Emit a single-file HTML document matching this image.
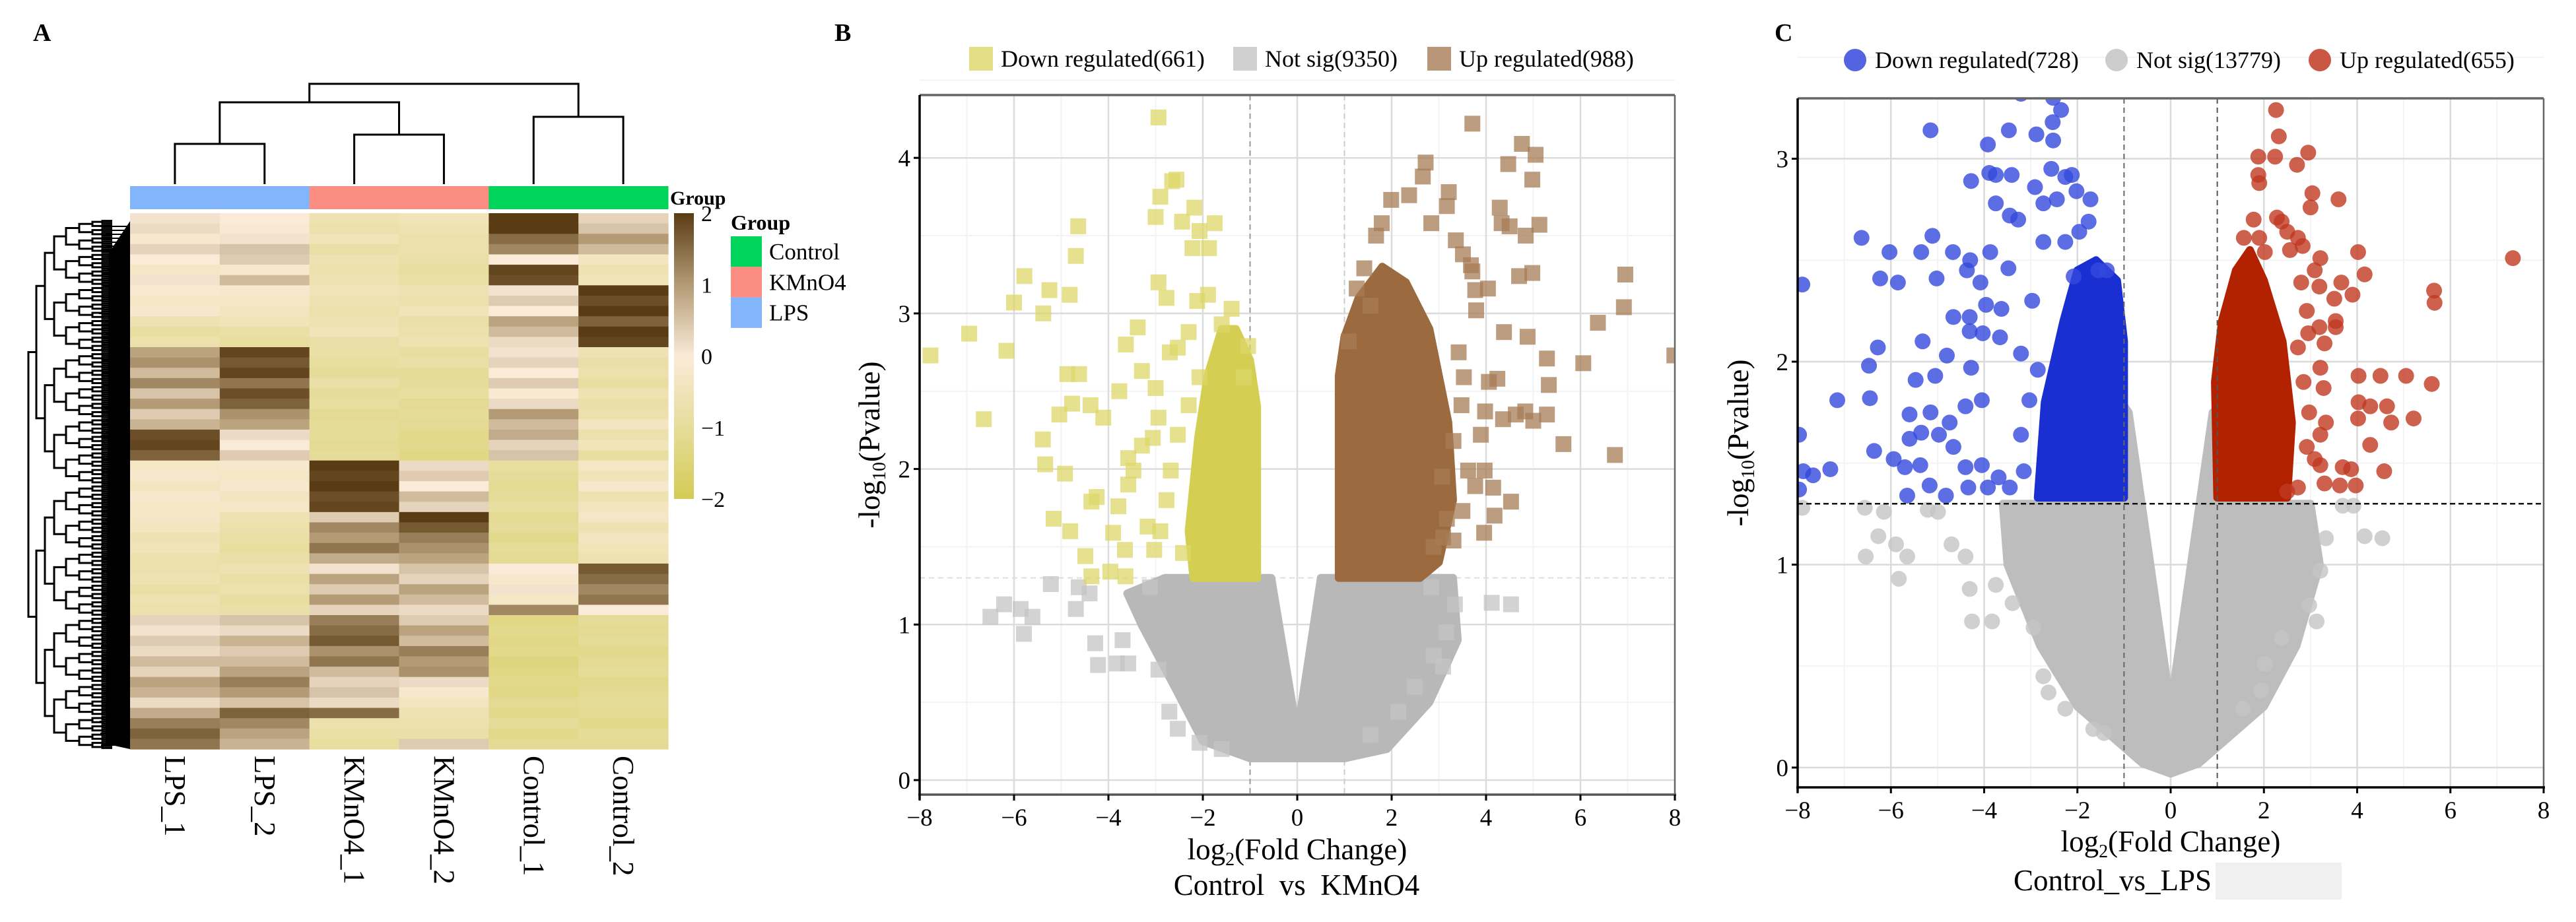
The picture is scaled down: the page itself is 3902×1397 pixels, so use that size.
<!DOCTYPE html>
<html><head><meta charset="utf-8"><style>
html,body{margin:0;padding:0;background:#fff}
svg{display:block;font-family:"Liberation Serif",serif}
</style></head><body>
<svg id="fig" width="3902" height="1397" viewBox="0 0 3902 1397" xmlns="http://www.w3.org/2000/svg">
<rect width="3902" height="1397" fill="#fff"/>
<g id="pa"></g>
<g id="pb"></g>
<g id="pc"></g>
</svg>
<script>
// ---------- Heatmap data ----------
const sampleLabels=["LPS_1","LPS_2","KMnO4_1","KMnO4_2","Control_1","Control_2"];
const sampleGroups=["LPS","LPS","KMnO4","KMnO4","Control","Control"];
const colorTicks=[2,1,0,-1,-2];
const heatRows=[
[0.1,0.0,-0.6,-0.5,2,0.3],[0.2,-0.1,-0.7,-0.6,2,0.5],[-0.2,0.1,-0.5,-0.7,1.5,1.0],[0.3,0.5,-0.8,-0.7,1.2,0.6],[0.0,0.4,-0.6,-0.8,0.0,-0.4],[-0.3,-0.2,-0.7,-0.9,1.9,-0.6],[0.1,0.6,-0.6,-0.8,1.8,-0.5],
[-0.1,-0.2,-0.5,-0.6,0.1,2],[-0.3,-0.3,-0.6,-0.7,0.4,1.8],[-0.2,-0.4,-0.7,-0.5,0.0,2],[-0.6,-0.5,-0.6,-0.8,0.9,1.6],[-0.9,-0.8,-0.5,-0.7,0.6,2],[-0.7,-0.9,-0.8,-0.6,0.2,1.9],
[0.9,1.9,-0.8,-0.9,0.1,-0.6],[1.1,1.7,-0.9,-0.8,0.3,-0.8],[0.6,1.9,-1.0,-1.0,0.0,-0.7],[1.2,1.4,-0.8,-1.0,0.4,-0.9],[0.5,1.8,-1.0,-0.9,-0.1,-0.6],[1.0,1.6,-0.9,-1.1,0.2,-0.8],[0.4,1.1,-1.1,-1.0,1.0,-0.7],[0.7,0.9,-1.0,-1.1,0.6,-0.4],[1.8,0.2,-1.0,-1.2,0.8,-0.7],[1.9,0.0,-1.1,-1.2,0.3,-0.5],[1.6,0.4,-1.0,-1.3,0.5,-0.9],
[-0.3,-0.2,2,0.2,-0.9,-0.3],[-0.2,-0.3,1.9,0.4,-1.0,-0.5],[-0.4,-0.2,2,0.0,-1.1,-0.2],[-0.2,-0.4,1.8,0.6,-1.0,-0.6],[-0.3,-0.3,1.9,0.3,-0.9,-0.4],
[-0.3,-0.6,0.4,2,-1.1,-0.3],[-0.4,-0.7,1.2,1.7,-1.0,-0.6],[-0.6,-0.8,1.0,1.3,-1.2,-0.4],[-0.5,-0.9,1.4,1.1,-1.0,-0.5],[-0.7,-0.8,0.8,0.9,-1.1,-0.6],
[-0.7,-0.6,0.1,0.5,0.0,1.7],[-0.6,-0.8,0.9,0.3,-0.2,1.5],[-0.8,-0.7,0.4,0.9,0.1,1.2],[-0.6,-0.9,1.0,0.6,-0.3,1.4],[-0.7,-0.8,0.3,0.2,1.2,0.0],
[0.3,0.5,1.3,0.4,-1.3,-1.0],[0.1,0.2,1.5,0.9,-1.2,-1.1],[0.4,0.7,1.7,0.6,-1.3,-1.0],[0.2,0.4,1.1,1.3,-1.2,-1.2],[0.6,0.6,1.4,1.0,-1.4,-1.1],[0.3,0.9,0.6,1.1,-1.3,-1.0],[0.9,1.3,0.3,0.2,-1.2,-1.2],[0.7,1.0,0.5,-0.2,-1.3,-1.1],[0.2,0.5,0.2,-0.4,-1.1,-1.0],[0.8,1.6,1.5,-0.6,-1.2,-1.1],[1.3,1.2,-0.7,-0.7,-1.0,-1.2],[1.6,0.9,-0.8,-0.8,-1.2,-1.0],[1.4,0.7,-0.9,0.4,-1.1,-1.1]];

// ---------- Volcano B data (log2FC, -log10 p) ----------
const bLegend=["Down regulated(661)","Not sig(9350)","Up regulated(988)"];
const bDown=[[-2.94,4.26],[-2.56,3.86],[-2.65,3.85],[-2.9,3.75],[-3.0,3.62],[-2.18,3.68],[-2.44,3.59],[-1.75,3.58],[-2.07,3.53],[-2.22,3.42],[-1.87,3.42],[-4.64,3.56],[-4.69,3.37],[-5.78,3.24],[-5.25,3.15],[-6.0,3.07],[-4.82,3.12],[-5.38,3.0],[-6.95,2.87],[-6.16,2.76],[-7.77,2.73],[-4.87,2.61],[-4.62,2.61],[-4.77,2.42],[-4.38,2.41],[-5.04,2.35],[-4.11,2.33],[-6.64,2.32],[-5.39,2.19],[-5.34,2.03],[-4.92,1.97],[-4.36,1.79],[-4.25,1.82],[-5.16,1.68],[-4.81,1.6],[-4.49,1.44],[-3.9,1.59],[-3.65,1.48],[-3.96,1.34],[-3.64,1.31],[-4.36,1.31],[-3.79,1.76],[-3.58,1.9],[-3.47,1.99],[-3.77,2.5],[-3.63,2.8],[-3.38,2.91],[-2.94,3.2],[-2.77,3.1],[-1.89,3.12],[-2.12,3.08],[-1.39,3.03],[-3.29,2.63],[-3.0,2.52],[-2.94,2.33],[-3.29,2.15],[-3.06,2.2],[-3.58,2.07],[-3.17,1.63],[-3.03,1.48],[-2.9,1.6],[-2.42,1.46],[-2.53,2.78],[-2.7,2.75],[-2.3,2.88],[-1.04,2.79],[-1.13,2.59],[-1.6,2.93],[-2.07,2.59],[-2.3,2.41],[-2.53,2.22],[-2.68,1.99],[-2.77,1.8]];
const bUp=[[3.71,4.22],[4.76,4.09],[5.05,4.02],[4.47,3.96],[2.72,3.97],[2.66,3.88],[4.98,3.86],[3.21,3.78],[3.17,3.69],[2.37,3.76],[1.99,3.73],[4.29,3.68],[4.33,3.58],[4.5,3.56],[5.13,3.57],[4.84,3.5],[3.36,3.47],[3.51,3.38],[4.7,3.24],[4.98,3.26],[6.95,3.25],[6.92,3.04],[4.04,3.16],[3.77,3.15],[3.79,3.02],[6.37,2.94],[4.38,2.88],[4.88,2.85],[5.29,2.71],[6.06,2.68],[7.99,2.73],[4.24,2.58],[4.06,2.56],[5.33,2.54],[3.98,2.37],[4.36,2.32],[4.63,2.35],[4.83,2.37],[5.29,2.35],[5.0,2.31],[5.64,2.16],[6.73,2.09],[3.89,2.22],[3.62,1.99],[3.97,1.99],[4.15,1.88],[3.77,1.89],[4.53,1.79],[4.18,1.7],[3.5,1.73],[3.17,1.68],[3.96,1.59],[3.31,1.54],[3.09,1.56],[2.89,1.5],[3.42,2.75],[3.53,2.59],[3.48,2.41],[3.31,2.18],[3.07,1.95],[3.68,3.31],[3.71,3.27],[2.84,3.58],[1.79,3.58],[1.67,3.5],[1.42,3.29],[1.26,3.16],[1.55,3.05],[1.09,2.82]];
const bNs=[[4.12,1.14],[4.53,1.13],[3.34,1.13],[3.16,0.95],[3.09,0.73],[2.89,0.8],[2.49,0.6],[2.14,0.44],[1.55,0.29],[-5.22,1.26],[-6.21,1.13],[-6.5,1.05],[-5.86,1.1],[-5.61,1.05],[-5.79,0.94],[-4.69,1.1],[-4.28,0.88],[-4.22,0.74],[-3.7,0.9],[-3.82,0.75],[-3.58,0.75],[-2.94,0.71],[-2.71,0.44],[-2.53,0.33],[-2.07,0.24],[-1.6,0.2],[-4.63,1.24],[-4.4,1.2],[-3.12,1.24],[2.84,1.24]];
const bDownCore=[[-0.85,1.3],[-0.85,2.4],[-1.0,2.7],[-1.3,2.9],[-1.6,2.9],[-1.9,2.6],[-2.1,2.2],[-2.3,1.6],[-2.2,1.3]];
const bUpCore=[[0.88,1.3],[0.88,2.6],[1.0,2.85],[1.3,3.1],[1.8,3.3],[2.3,3.2],[2.8,2.9],[3.2,2.3],[3.3,1.8],[3.0,1.4],[2.6,1.3]];
const bNsCore=[[-2.8,1.3],[-0.55,1.3],[0,0.3],[0.5,1.3],[3.3,1.3],[3.4,0.9],[2.8,0.5],[1.9,0.2],[1.0,0.14],[-1.0,0.14],[-2.0,0.25],[-2.6,0.6],[-3.3,1.0],[-3.6,1.2]];
const bXTicks=[-8,-6,-4,-2,0,2,4,6,8];
const bYTicks=[0,1,2,3,4];

// ---------- Volcano C data ----------
const cLegend=["Down regulated(728)","Not sig(13779)","Up regulated(655)"];
const cDown=[[-5.15,3.14],[-3.92,3.07],[-3.47,3.14],[-2.88,3.12],[-2.53,3.18],[-2.35,3.24],[-2.52,3.09],[-3.21,3.32],[-2.52,3.3],[-4.28,2.89],[-3.89,2.93],[-3.75,2.92],[-3.41,2.92],[-2.56,2.95],[-2.26,2.91],[-2.12,2.92],[-2.91,2.86],[-2.73,2.78],[-2.44,2.8],[-2.02,2.84],[-1.72,2.8],[-3.75,2.78],[-3.45,2.72],[-3.27,2.7],[-1.76,2.69],[-6.63,2.61],[-5.11,2.62],[-6.03,2.54],[-5.35,2.54],[-4.67,2.54],[-4.3,2.5],[-3.87,2.54],[-6.23,2.41],[-5.85,2.39],[-5.02,2.41],[-4.37,2.45],[-4.08,2.39],[-3.48,2.46],[-7.9,2.38],[-4.66,2.22],[-4.31,2.22],[-3.96,2.28],[-3.63,2.26],[-2.97,2.3],[-4.31,2.15],[-4.03,2.14],[-3.66,2.12],[-6.28,2.07],[-5.32,2.1],[-4.8,2.03],[-6.47,1.98],[-5.47,1.91],[-5.05,1.93],[-4.28,1.97],[-7.15,1.81],[-6.45,1.82],[-5.15,1.75],[-5.6,1.74],[-4.74,1.7],[-4.4,1.78],[-4.05,1.81],[-4.97,1.64],[-5.6,1.62],[-5.35,1.65],[-4.66,1.58],[-6.36,1.56],[-5.94,1.52],[-5.7,1.48],[-5.37,1.49],[-4.4,1.48],[-4.05,1.49],[-3.69,1.43],[-7.3,1.47],[-7.88,1.46],[-7.67,1.44],[-7.97,1.64],[-7.97,1.37],[-5.65,1.34],[-5.17,1.39],[-4.82,1.34],[-4.34,1.38],[-3.92,1.38],[-3.45,1.38],[-3.15,1.46],[-3.21,1.64],[-3.03,1.81],[-2.85,1.96],[-3.21,2.04],[-2.08,2.42],[-1.55,2.45],[-1.37,2.45],[-2.73,2.59],[-2.26,2.59],[-1.96,2.64]];
const cUp=[[2.26,3.24],[2.32,3.11],[1.88,3.01],[2.24,3.01],[2.95,3.03],[2.71,2.97],[1.88,2.92],[1.9,2.88],[3.04,2.83],[3.0,2.76],[3.6,2.8],[1.78,2.7],[2.28,2.71],[2.38,2.69],[2.5,2.64],[2.73,2.61],[1.57,2.61],[1.9,2.61],[2.02,2.54],[2.56,2.55],[2.83,2.57],[3.21,2.51],[3.09,2.45],[4.02,2.54],[4.16,2.43],[7.34,2.51],[5.65,2.35],[5.66,2.29],[3.66,2.39],[3.9,2.33],[3.51,2.31],[3.19,2.37],[2.8,2.39],[2.92,2.25],[3.19,2.17],[3.54,2.2],[3.54,2.17],[3.3,2.09],[2.95,2.14],[2.73,2.07],[3.21,1.97],[4.03,1.93],[4.5,1.93],[5.05,1.93],[5.6,1.89],[3.28,1.87],[2.85,1.9],[4.03,1.8],[4.28,1.78],[4.64,1.78],[2.97,1.75],[4.02,1.72],[4.73,1.7],[5.21,1.72],[3.33,1.7],[3.21,1.64],[4.28,1.59],[2.92,1.58],[3.09,1.52],[3.21,1.49],[3.69,1.48],[3.87,1.47],[4.58,1.46],[3.3,1.4],[3.63,1.39],[3.97,1.39],[2.73,1.38],[2.5,1.36]];
const cNs=[[-7.9,1.28],[-6.56,1.28],[-6.15,1.26],[-6.27,1.14],[-6.54,1.04],[-5.89,1.1],[-5.65,1.04],[-5.83,0.93],[-5.21,1.27],[-4.99,1.26],[-4.7,1.1],[-4.4,1.04],[-4.31,0.88],[-4.26,0.72],[-3.83,0.72],[-3.75,0.9],[-3.39,0.81],[-2.94,0.69],[-2.73,0.45],[-2.62,0.37],[-2.26,0.29],[-1.66,0.19],[-1.43,0.17],[3.92,1.29],[4.16,1.14],[4.54,1.13],[3.13,0.72],[2.97,0.8],[3.21,0.97],[3.33,1.13],[2.38,0.64],[2.02,0.51],[1.94,0.38],[1.55,0.29],[3.69,1.29]];
const cDownCore=[[-1.0,1.33],[-1.0,2.1],[-1.15,2.4],[-1.6,2.5],[-2.0,2.45],[-2.3,2.2],[-2.7,1.8],[-2.85,1.33]];
const cUpCore=[[1.0,1.33],[0.95,1.9],[1.1,2.2],[1.4,2.45],[1.7,2.55],[2.0,2.4],[2.4,2.1],[2.6,1.7],[2.5,1.33]];
const cNsCore=[[-3.6,1.3],[-1.1,1.3],[-1.05,1.8],[-0.9,1.75],[0,0.3],[0.9,1.75],[1.0,1.75],[1.05,1.3],[3.0,1.3],[3.2,1.0],[2.7,0.6],[2.0,0.3],[0.6,0.02],[0,-0.03],[-0.6,0.02],[-2.0,0.3],[-2.8,0.6],[-3.5,1.0]];
const cXTicks=[-8,-6,-4,-2,0,2,4,6,8];
const cYTicks=[0,1,2,3];

// ---------- helpers ----------
const NS="http://www.w3.org/2000/svg";
function mk(parent,tag,attrs,txt){const e=document.createElementNS(NS,tag);for(const k in attrs)e.setAttribute(k,attrs[k]);if(txt!==undefined)e.textContent=txt;parent.appendChild(e);return e;}
const fmt=v=>v<0?"\u2212"+(-v):String(v);

// ---------- Panel A: heatmap ----------
(function(){
const g=document.getElementById('pa');
const hx0=197,hx1=1012,hy0=323,hy1=1135;
const cw=(hx1-hx0)/sampleLabels.length, rh=(hy1-hy0)/heatRows.length;
const stops=[[-2,[212,203,85]],[-1,[230,220,154]],[0,[250,235,216]],[1,[180,155,118]],[2,[90,60,20]]];
function col(v){v=Math.max(-2,Math.min(2,v));for(let i=0;i<stops.length-1;i++){const a=stops[i],b=stops[i+1];if(v<=b[0]){const t=(v-a[0])/(b[0]-a[0]);const c=a[1].map((x,j)=>Math.round(x+(b[1][j]-x)*t));return `rgb(${c})`;}}}
const groupColors={Control:"#00d45a",KMnO4:"#fb8d83",LPS:"#83b5fc"};
const panelLabel=mk(g,'text',{x:50,y:62,'font-size':38,'font-weight':'bold'},"A");


const cells=mk(g,'g',{});


heatRows.forEach((row,r)=>row.forEach((v,c)=>{
  const e=mk(cells,'rect',{x:hx0+c*cw,y:hy0+r*rh,width:cw+0.6,height:rh+0.6,fill:col(v)});
  
  
}));
sampleGroups.forEach((gr,c)=>{
  const e=mk(g,'rect',{x:hx0+c*cw,y:282,width:cw+0.5,height:35,fill:groupColors[gr]});
  
  
});
const gt=mk(g,'text',{x:1015,y:310,'font-size':30,'font-weight':'bold'},"Group");


const cx=i=>hx0+(i+0.5)*cw;
const cd=mk(g,'path',{fill:'none',stroke:'#000','stroke-width':3,d:
`M${cx(0)},279V218H${cx(1)}V279 M${cx(2)},279V204H${cx(3)}V279 M${cx(4)},279V177H${cx(5)}V279 M${(cx(0)+cx(1))/2},218V155H${(cx(2)+cx(3))/2}V204 M${(cx(0)+cx(1)+cx(2)+cx(3))/4},155V127H${(cx(4)+cx(5))/2}V177`});


const rd=mk(g,'g',{});


mk(rd,'path',{fill:'#000',d:`M197,${hy0+12}L165,${hy0+60}L160,${hy1-8}L197,${hy1}Z`});
const levels=[43,55,68,82,100,120,140,155,170];
let d="";
function tree(lo,hi,depth){
  if(depth>=levels.length-1){return (lo+hi)/2;}
  const mid=(lo+hi)/2;
  const a=tree(lo,mid,depth+1), b=tree(mid,hi,depth+1);
  const x=levels[depth], xc=levels[depth+1];
  d+=`M${xc},${a}H${x}V${b}H${xc}`;
  return (a+b)/2;
}
tree(hy0+10,hy1,0);
mk(rd,'path',{fill:'none',stroke:'#000','stroke-width':3,d:d});
let d2="";
for(let y=hy0+20;y<hy1;y+=6){d2+=`M${150+((y*7)%25)},${y}H197`;}
mk(rd,'path',{fill:'none',stroke:'#000','stroke-width':2,d:d2});
const defs=mk(g,'defs',{});
const lg=mk(defs,'linearGradient',{id:'cb',x1:0,y1:0,x2:0,y2:1});
[2,1,0,-1,-2].forEach((v,i)=>mk(lg,'stop',{offset:i/4,'stop-color':col(v)}));
const cb=mk(g,'rect',{x:1021,y:323,width:30,height:433,fill:'url(#cb)'});


colorTicks.forEach(v=>{
  const y=323+(2-v)/4*433;
  const t=mk(g,'text',{x:1062,y:y+12,'font-size':34},fmt(v));
  
  
});
const lt=mk(g,'text',{x:1107,y:348,'font-size':32,'font-weight':'bold'},"Group");


["Control","KMnO4","LPS"].forEach((n,i)=>{
  const y=358+i*46.3;
  const r=mk(g,'rect',{x:1107,y:y,width:47,height:46.3,fill:groupColors[n]});
  
  
  const t=mk(g,'text',{x:1165,y:y+35,'font-size':35},n);
  
  
});
sampleLabels.forEach((s,c)=>{
  const t=mk(g,'text',{x:0,y:0,'font-size':45,transform:`translate(${cx(c)-15},1145) rotate(90)`},s);
  
  
});
})();

// ---------- Volcano builder ----------
function volcano(o){
const g=document.getElementById(o.id);
const X=v=>o.x0+(v-(-8))*(o.x1-o.x0)/16;
const Y=v=>o.yZero-v*o.yUnit;
const pl=mk(g,'text',{x:o.labelX,y:62,'font-size':38,'font-weight':'bold'},o.label);


const grid=mk(g,'g',{});


for(let v=-7;v<=7;v+=2) mk(grid,'line',{x1:X(v),x2:X(v),y1:o.y0,y2:o.y1,stroke:'#f3f3f3','stroke-width':2});
o.yTicks.forEach(v=>mk(grid,'line',{x1:o.x0,x2:o.x1,y1:Y(v+0.5),y2:Y(v+0.5),stroke:'#f3f3f3','stroke-width':2}));
o.xTicks.forEach(v=>mk(grid,'line',{x1:X(v),x2:X(v),y1:o.y0,y2:o.y1,stroke:o.grid,'stroke-width':2.5}));
o.yTicks.forEach(v=>mk(grid,'line',{x1:o.x0,x2:o.x1,y1:Y(v),y2:Y(v),stroke:o.grid,'stroke-width':2.5}));
const th=mk(g,'g',{});


mk(th,'line',{x1:X(-1),x2:X(-1),y1:o.y0,y2:o.y1,stroke:o.vl1,'stroke-width':2,'stroke-dasharray':'8,6'});
mk(th,'line',{x1:X(1),x2:X(1),y1:o.y0,y2:o.y1,stroke:o.vl2,'stroke-width':2,'stroke-dasharray':'8,6'});
if(!o.hFront) mk(th,'line',{x1:o.x0,x2:o.x1,y1:Y(1.3),y2:Y(1.3),stroke:o.hl,'stroke-width':2,'stroke-dasharray':'8,6'});
const clip=mk(mk(g,'defs',{}),'clipPath',{id:o.id+'clip'});
mk(clip,'rect',{x:o.x0,y:o.y0,width:o.x1-o.x0,height:o.y1-o.y0});
const pts=mk(g,'g',{'clip-path':`url(#${o.id}clip)`});


const sz=o.size;
function core(arr,fill,name){
  const p=mk(pts,'polygon',{points:arr.map(q=>X(q[0])+','+Y(q[1])).join(' '),fill:fill,stroke:fill,'stroke-width':sz*0.5,'stroke-linejoin':'round'});
  
  
}
function dots(arr,fill,name){
  arr.forEach(q=>{
    let e;
    if(o.square) e=mk(pts,'rect',{x:X(q[0])-sz/2,y:Y(q[1])-sz/2,width:sz,height:sz,fill:fill,'fill-opacity':0.75});
    else e=mk(pts,'circle',{cx:X(q[0]),cy:Y(q[1]),r:sz/2,fill:fill,'fill-opacity':0.8});
    
    
  });
}
core(o.nsCore,o.cNs,'not-sig-dense-region');
dots(o.ns,o.cNsL,'not-sig-point');
core(o.downCore,o.cDown,'down-dense-region');
core(o.upCore,o.cUp,'up-dense-region');
dots(o.down,o.cDownL,'down-point');
dots(o.up,o.cUpL,'up-point');
if(o.hFront){mk(th,'line',{x1:o.x0,x2:o.x1,y1:Y(1.3),y2:Y(1.3),stroke:o.hl,'stroke-width':2.5,'stroke-dasharray':'8,5'});g.appendChild(th);}
const fr=mk(g,'g',{});


mk(fr,'line',{x1:o.x0,x2:o.x1,y1:o.y0,y2:o.y0,stroke:'#666','stroke-width':3.5});
mk(fr,'line',{x1:o.x1,x2:o.x1,y1:o.y0,y2:o.y1,stroke:'#666','stroke-width':2.5});
const xa=mk(g,'line',{x1:o.x0-2,x2:o.x1+2,y1:o.y1,y2:o.y1,stroke:o.xAxisCol,'stroke-width':3.5});


const ya=mk(g,'line',{x1:o.x0,x2:o.x0,y1:o.y0,y2:o.y1+8,stroke:'#000','stroke-width':3.5});


o.xTicks.forEach(v=>{
  mk(g,'line',{x1:X(v),x2:X(v),y1:o.y1,y2:o.y1+9,stroke:'#000','stroke-width':3});
  const t=mk(g,'text',{x:X(v),y:o.y1+47,'font-size':37,'text-anchor':'middle'},fmt(v));
  
  
});
o.yTicks.forEach(v=>{
  mk(g,'line',{x1:o.x0-9,x2:o.x0,y1:Y(v),y2:Y(v),stroke:'#000','stroke-width':3});
  const t=mk(g,'text',{x:o.x0-14,y:Y(v)+13,'font-size':37,'text-anchor':'end'},fmt(v));
  
  
});
const xc=(o.x0+o.x1)/2;
const xl=mk(g,'text',{x:xc,y:o.xlY,'font-size':45,'text-anchor':'middle'});


mk(xl,'tspan',{},"log");mk(xl,'tspan',{'font-size':28,dy:9},"2");mk(xl,'tspan',{dy:-9},"(Fold Change)");
const sub=mk(g,'text',{x:o.subX,y:o.subY,'font-size':45,'text-anchor':o.subAnchor},o.subtitle);


const yl=mk(g,'text',{x:0,y:0,'font-size':45,'text-anchor':'middle',transform:`translate(${o.ylX},${(o.y0+o.y1)/2}) rotate(-90)`});


mk(yl,'tspan',{},"-log");mk(yl,'tspan',{'font-size':28,dy:9},"10");mk(yl,'tspan',{dy:-9},"(Pvalue)");
const cols=[o.cDownL,o.cNsL,o.cUpL];
o.legend.forEach((txt,i)=>{
  const lx=o.legX[i];
  let s;
  if(o.square) s=mk(g,'rect',{x:lx,y:o.legY-18,width:36,height:36,fill:cols[i],'fill-opacity':0.8});
  else s=mk(g,'circle',{cx:lx+18,cy:o.legY,r:17,fill:cols[i],'fill-opacity':0.85});
  
  
  const t=mk(g,'text',{x:lx+48,y:o.legY+12,'font-size':36},txt);
  
  
});
}

volcano({id:'pb',label:'B',labelX:1264,x0:1393,x1:2537,y0:144,y1:1204,yZero:1182,yUnit:235.7,
 xTicks:bXTicks,yTicks:bYTicks,grid:'#dcdcdc',vl1:'#999',vl2:'#ccc',hl:'#ddd',hFront:false,xAxisCol:'#555',
 down:bDown,up:bUp,ns:bNs,downCore:bDownCore,upCore:bUpCore,nsCore:bNsCore,square:true,size:24,
 cDown:'#d4cf52',cUp:'#9b6a3e',cNs:'#b8b8b8',cDownL:'#dcd768',cUpL:'#a77c56',cNsL:'#c4c4c4',
 legend:bLegend,legX:[1468,1868,2162],legY:89,xlY:1302,subtitle:'Control\u00a0\u00a0vs\u00a0\u00a0KMnO4',subX:1964,subY:1356,subAnchor:'middle',ylX:1332});

volcano({id:'pc',label:'C',labelX:2688,x0:2723,x1:3853,y0:149,y1:1193,yZero:1163,yUnit:307.5,
 xTicks:cXTicks,yTicks:cYTicks,grid:'#dadada',vl1:'#666',vl2:'#555',hl:'#111',hFront:true,xAxisCol:'#000',
 down:cDown,up:cUp,ns:cNs,downCore:cDownCore,upCore:cUpCore,nsCore:cNsCore,square:false,size:24,
 cDown:'#1a2fd2',cUp:'#b32200',cNs:'#bdbdbd',cDownL:'#3548dc',cUpL:'#c03a22',cNsL:'#c4c4c4',
 legend:cLegend,legX:[2792,3188,3496],legY:91,xlY:1290,subtitle:'Control_vs_LPS',subX:3050,subY:1349,subAnchor:'start',ylX:2648});

const gb=document.createElementNS(NS,'rect');
gb.setAttribute('x',3356);gb.setAttribute('y',1307);gb.setAttribute('width',191);gb.setAttribute('height',56);gb.setAttribute('fill','#f0f0f0');


document.getElementById('pc').appendChild(gb);
</script>
</body></html>
